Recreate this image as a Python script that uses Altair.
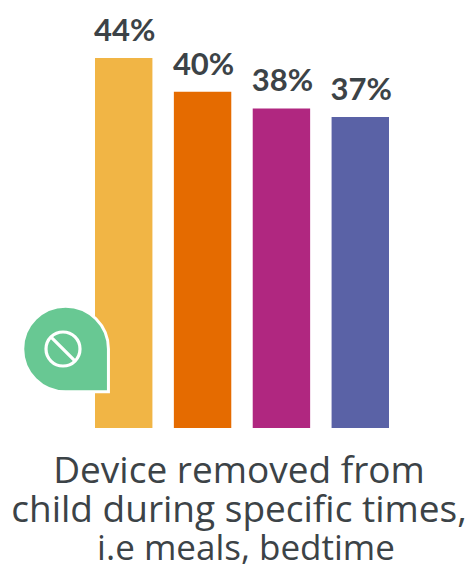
import altair as alt
import pandas as pd

groups = ["A", "B", "C", "D"]
values = [44, 40, 38, 37]
labels = ["44%", "40%", "38%", "37%"]
colors = ["#F1B545", "#E56B00", "#B02780", "#5A62A6"]
caption = ["Device removed from", "child during specific times,", "i.e meals, bedtime"]
caption_x = [239, 239, 246]
caption_y = [483, 522, 560]
caption_size = [37, 37, 35]

PIN = "M0,-1 A1,1 0 0 1 1,0 L1,1 L0,1 A1,1 0 0 1 0,-1 Z"
RING = "M0,-1 A1,1 0 1 1 0,1 A1,1 0 1 1 0,-1 Z M-0.7,-0.7 L0.7,0.7"

bars_df = pd.DataFrame({"group": groups, "value": values, "label": labels})
x = alt.X("group:N", axis=None, sort=groups,
          scale=alt.Scale(range=[95, 389], paddingInner=0.272, paddingOuter=0))
y = alt.Y("value:Q", axis=None, scale=alt.Scale(domain=[0, 50.9], range=[428, 0]))

bars = alt.Chart(bars_df).mark_bar(cornerRadius=0).encode(
    x=x, y=y,
    color=alt.Color("group:N", legend=None, sort=groups,
                    scale=alt.Scale(domain=groups, range=colors)),
)
value_text = alt.Chart(bars_df).mark_text(
    font="Lato", fontWeight=700, fontSize=31, color="#3C4347",
    baseline="alphabetic", dy=-17, dx=1,
).encode(x=x, y=y, text="label:N")

pin = alt.Chart(pd.DataFrame({"k": [0]})).mark_point(
    shape=PIN, size=7344, filled=True, fill="#68C893", stroke="#FFFFFF", strokeWidth=3, opacity=1
).encode(x=alt.value(65.6), y=alt.value(349))
ring = alt.Chart(pd.DataFrame({"k": [0]})).mark_point(
    shape=RING, size=1156, filled=False, stroke="#FFFFFF", strokeWidth=3.2, opacity=1
).encode(x=alt.value(63), y=alt.value(349))

# one text layer per caption line, each on its own baseline
caption_layers = [
    alt.Chart(pd.DataFrame({"line": [line]})).mark_text(
        font="Open Sans", fontSize=size, color="#3C4347", baseline="alphabetic", align="center",
    ).encode(x=alt.value(cx), y=alt.value(cy), text="line:N")
    for line, cx, cy, size in zip(caption, caption_x, caption_y, caption_size)
]

chart = alt.layer(bars, value_text, pin, ring, *caption_layers).properties(
    width=476, height=565, padding=0,
    autosize=alt.AutoSizeParams(type="none"),
    background="#FFFFFF",
).configure_view(stroke=None)

chart.save("out.html", embed_options={"renderer": "svg", "actions": False})
